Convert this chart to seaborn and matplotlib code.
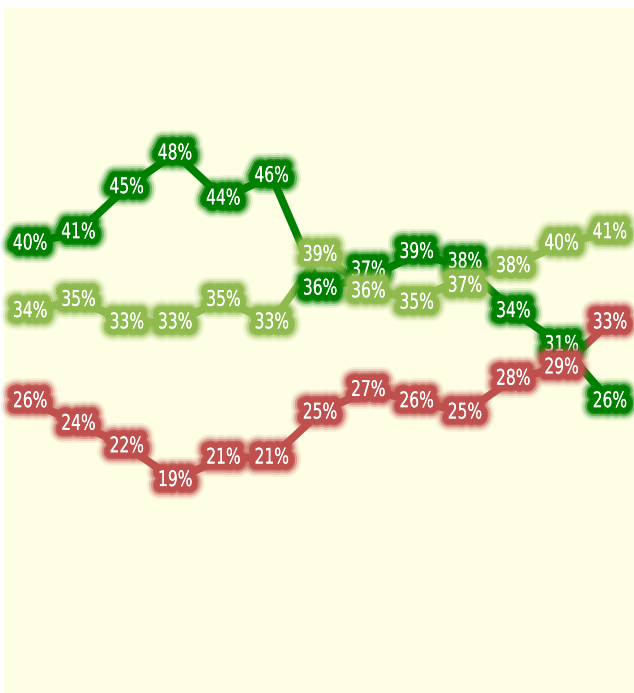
import matplotlib
matplotlib.use("Agg")
import matplotlib.pyplot as plt
import matplotlib.patheffects as pe
from matplotlib.transforms import Affine2D
import numpy as np
import pandas as pd
import seaborn as sns

# Survey waves and the share for each of the three answers
waves = list(range(13))
approve = [40, 41, 45, 48, 44, 46, 36, 37, 39, 38, 34, 31, 26]
neutral = [34, 35, 33, 33, 35, 33, 39, 36, 35, 37, 38, 40, 41]
disapprove = [26, 24, 22, 19, 21, 21, 25, 27, 26, 25, 28, 29, 33]

series_names = ["approve", "neutral", "disapprove"]
series_values = [approve, neutral, disapprove]
colors = {"approve": "#008000", "neutral": "#8fba4e", "disapprove": "#c0504d"}

# vertical nudges (points) for labels that would collide where lines cross
nudges = {("approve", 7): 5, ("neutral", 7): -2,
          ("approve", 9): 3, ("neutral", 9): -6,
          ("approve", 8): 2, ("neutral", 8): -2}

df = pd.concat(
    [pd.DataFrame({"wave": waves, "share": vals, "series": name})
     for name, vals in zip(series_names, series_values)],
    ignore_index=True,
)


class Squeeze(pe.AbstractPathEffect):
    """Narrow the glyph outlines horizontally about their centre, then
    hand them on to another path effect (gives a condensed look)."""

    def __init__(self, inner, k=0.72):
        super().__init__()
        self.inner = inner
        self.k = k

    def draw_path(self, renderer, gc, tpath, affine, rgbFace=None):
        ext = tpath.get_extents()
        cx = (ext.x0 + ext.x1) / 2
        sq = Affine2D().translate(-cx, 0).scale(self.k, 1).translate(cx, 0)
        self.inner.draw_path(renderer, gc, tpath, sq + affine, rgbFace)


def glow(color):
    layers = [
        pe.withStroke(linewidth=19, foreground=color, alpha=0.10),
        pe.withStroke(linewidth=16, foreground=color, alpha=0.2),
        pe.withStroke(linewidth=13, foreground=color, alpha=0.4),
        pe.withStroke(linewidth=10, foreground=color, alpha=0.75),
        pe.withStroke(linewidth=8, foreground=color, alpha=1.0),
        pe.Normal(),
    ]
    return [Squeeze(layer) for layer in layers]


sns.set_theme(style="white")
plt.rcParams["font.family"] = ["DejaVu Sans"]

fig = plt.figure(figsize=(6.34, 6.93), dpi=100)
fig.patch.set_facecolor("white")
ax = fig.add_axes([4 / 634, 0, 630 / 634, 685 / 693])
ax.set_facecolor("#fefee4")

sns.lineplot(data=df, x="wave", y="share", hue="series", palette=colors,
             linewidth=5.6, legend=False, ax=ax, zorder=2)
for line in ax.lines:
    line.set_solid_capstyle("butt")
    line.set_solid_joinstyle("miter")

for name, vals in zip(series_names, series_values):
    c = colors[name]
    for x, v in zip(waves, vals):
        dy = nudges.get((name, x), 0)
        ax.annotate(f"{v}%", xy=(x, v), xytext=(0, dy), textcoords="offset points",
                    ha="center", va="center", color="white",
                    fontsize=15.5, zorder=5, path_effects=glow(c))

ax.set_xlim(-0.54, 12.5)
ax.set_ylim(0.1, 60.9)
ax.set_xticks([])
ax.set_yticks([])
ax.set_xlabel("")
ax.set_ylabel("")
for s in ax.spines.values():
    s.set_visible(False)

fig.savefig("out.png", dpi=100, facecolor="white")
